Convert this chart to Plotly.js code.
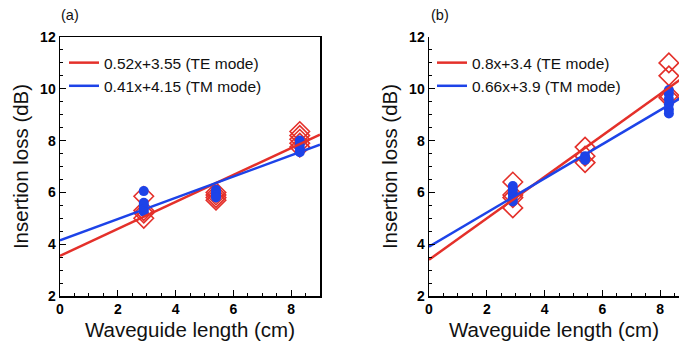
<!DOCTYPE html>
<html><head><meta charset="utf-8">
<script src="https://cdn.plot.ly/plotly-3.0.1.min.js"></script>
<style>html,body{margin:0;padding:0;background:#fff}#c{width:679px;height:345px}</style>
</head><body><div id="c"></div>
<script>
// Panel (a)
const aTE_x = [2.9,2.9,2.9,2.9, 5.4,5.4,5.4,5.4, 8.3,8.3,8.3,8.3,8.3];
const aTE_y = [5.85,5.3,5.2,5.0, 6.0,5.9,5.8,5.7, 8.35,8.2,8.05,7.9,7.75];
const aTM_x = [2.9,2.9,2.9,2.9,2.9, 5.4,5.4,5.4,5.4, 8.3,8.3,8.3,8.3];
const aTM_y = [6.05,5.6,5.5,5.35,5.25, 6.1,6.0,5.9,5.8, 8.0,7.85,7.7,7.55];
// Panel (b)
const bTE_x = [2.9,2.9,2.9,2.9, 5.4,5.4,5.4, 8.3,8.3,8.3,8.3];
const bTE_y = [6.4,5.9,5.8,5.4, 7.75,7.4,7.15, 11.0,10.5,9.75,9.65];
const bTM_x = [2.9,2.9,2.9,2.9,2.9, 5.4,5.4,5.4, 8.3,8.3,8.3,8.3,8.3,8.3];
const bTM_y = [6.25,6.1,5.95,5.8,5.65, 7.4,7.3,7.25, 9.95,9.8,9.6,9.4,9.2,9.05];
// Linear fits (slope, intercept) as given in the legends
const fitSlope = {aTE:0.52, aTM:0.41, bTE:0.8, bTM:0.66};
const fitInt   = {aTE:3.55, aTM:4.15, bTE:3.4, bTM:3.9};
const fitLabel = {aTE:'0.52x+3.55 (TE mode)', aTM:'0.41x+4.15 (TM mode)', bTE:'0.8x+3.4 (TE mode)', bTM:'0.66x+3.9 (TM mode)'};
const fitX = [0, 9];

const RED = '#e4302a', BLUE = '#1d43e8';
const FONT = 'Liberation Sans, Arial, Helvetica, sans-serif';

function fit(key, color, xa, ya, leg){
  return {x: fitX, y: fitX.map(v => fitSlope[key]*v + fitInt[key]), mode:'lines',
    line:{color:color, width:2.5}, name: fitLabel[key], xaxis:xa, yaxis:ya, legend:leg, hoverinfo:'skip'};
}
function te(x,y,xa,ya){ return {x:x,y:y,mode:'markers',showlegend:false,xaxis:xa,yaxis:ya,
  marker:{symbol:'diamond-open',size:15,color:RED,line:{width:1.6,color:RED}}}; }
function tm(x,y,xa,ya){ return {x:x,y:y,mode:'markers',showlegend:false,xaxis:xa,yaxis:ya,
  marker:{symbol:'circle',size:10,color:BLUE}}; }

const data = [
  te(aTE_x,aTE_y,'x','y'), tm(aTM_x,aTM_y,'x','y'),
  fit('aTE',RED,'x','y','legend'), fit('aTM',BLUE,'x','y','legend'),
  te(bTE_x,bTE_y,'x2','y2'), tm(bTM_x,bTM_y,'x2','y2'),
  fit('bTE',RED,'x2','y2','legend2'), fit('bTM',BLUE,'x2','y2','legend2')
];

const TICKFONT = {family:FONT,size:14,color:'#000'};
const TITLEFONT = {family:FONT,size:20.5,color:'#111'};
function xax(domain, range, mirror){
  return {domain:domain, range:range, showgrid:false, zeroline:false, showline:true, mirror:mirror,
    linecolor:'#000', linewidth:1.5, ticks:'inside', ticklen:6, tickwidth:1.2, tickcolor:'#000',
    dtick:2, tick0:0, tickfont:TICKFONT, tickprefix:'<b>', ticksuffix:'</b>',
    minor:{dtick:0.5, ticks:'inside', ticklen:3, tickcolor:'#000', tickwidth:1},
    title:{text:'Waveguide length (cm)', font:TITLEFONT, standoff:6}};
}
function yax(anchor, mirror){
  return {anchor:anchor, range:[2,12], showgrid:false, zeroline:false, showline:true, mirror:mirror,
    linecolor:'#000', linewidth:1.5, ticks:'inside', ticklen:6, tickwidth:1.2, tickcolor:'#000',
    dtick:2, tickfont:TICKFONT, tickprefix:'<b>', ticksuffix:'</b>',
    minor:{dtick:0.5, ticks:'inside', ticklen:3, tickcolor:'#000', tickwidth:1},
    title:{text:'Insertion loss (dB)', font:TITLEFONT, standoff:6}};
}
const LEGFONT = {family:FONT,size:15.5,color:'#111'};

const layout = {
  width:679, height:345, margin:{l:0,r:0,t:37,b:49}, paper_bgcolor:'#fff', plot_bgcolor:'#fff',
  font:{family:FONT},
  xaxis: Object.assign(xax([60/679, 320/679],[0,9],true), {anchor:'y'}),
  yaxis: yax('x', true),
  xaxis2: Object.assign(xax([429/679, 1],[0,8.65],false), {anchor:'y2'}),
  yaxis2: yax('x2', false),
  legend:{x:64/679, y:0.965, xanchor:'left', yanchor:'top', bgcolor:'rgba(0,0,0,0)',
    font:LEGFONT, itemwidth:30, tracegroupgap:0},
  legend2:{x:432/679, y:0.965, xanchor:'left', yanchor:'top', bgcolor:'rgba(0,0,0,0)',
    font:LEGFONT, itemwidth:30, tracegroupgap:0},
  annotations:[
    {text:'(a)', xref:'paper', yref:'paper', x:59/679, y:1, yshift:22, xanchor:'left', yanchor:'middle', showarrow:false, font:{family:FONT,size:14.5,color:'#111'}},
    {text:'(b)', xref:'paper', yref:'paper', x:429/679, y:1, yshift:22, xanchor:'left', yanchor:'middle', showarrow:false, font:{family:FONT,size:14.5,color:'#111'}}
  ]
};
Plotly.newPlot('c', data, layout, {staticPlot:true, displayModeBar:false});
</script></body></html>
